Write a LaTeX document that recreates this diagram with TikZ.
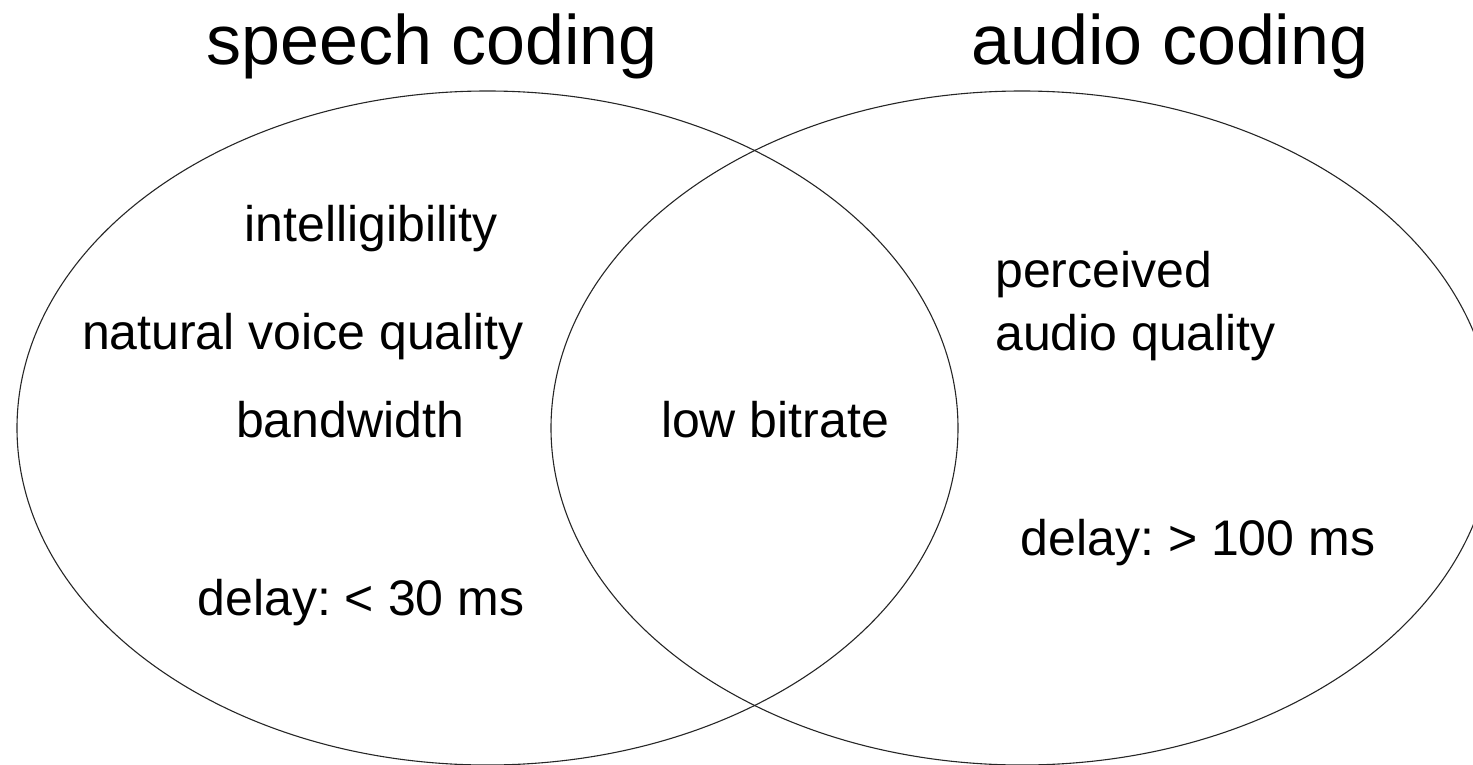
\documentclass[tikz,border=0pt]{standalone}
\usepackage{fontspec}
\setmainfont{Liberation Sans}
\frenchspacing
\begin{document}
\begin{tikzpicture}[x=1pt,y=-1pt,
  circ/.style={draw=black!85,line width=1.1pt},
  title/.style={anchor=base,inner sep=0pt,font=\fontsize{70}{84}\selectfont},
  lbl/.style={anchor=base,inner sep=0pt,font=\fontsize{50}{63}\selectfont}]
\useasboundingbox (0,0) rectangle (1473,765);
\clip (0,0) rectangle (1473,765);
\draw[circ] (487.5,428) ellipse [x radius=470.5, y radius=337];
\draw[circ] (1022,428) ellipse [x radius=471, y radius=337];
\node[title] (speech) at (432,65) {speech coding};
\node[title] (audio) at (1170,65) {audio coding};
\node[lbl] (intel) at (371,241) {intelligibility};
\node[lbl] (natural) at (303,349) {natural voice quality};
\node[lbl] (band) at (350,437) {bandwidth};
\node[lbl] (dls) at (361,615) {delay: < 30 ms};
\node[lbl] (low) at (775,437) {low bitrate};
\node[lbl,anchor=base west] (perc) at (995,287) {perceived};
\node[lbl,anchor=base west] (aq) at (995,350) {audio quality};
\node[lbl] (dla) at (1198,555) {delay: > 100 ms};
\end{tikzpicture}
\end{document}
